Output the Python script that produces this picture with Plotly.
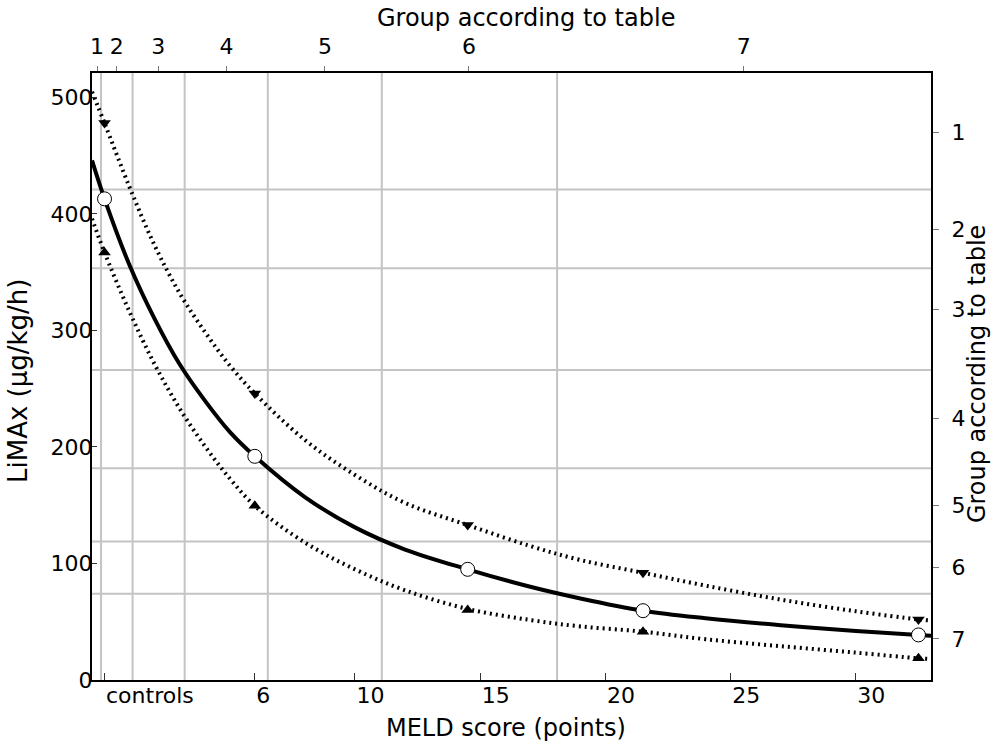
import plotly.graph_objects as go

# ---- data ----
meld_pts = [0.0, 6.0, 14.5, 21.5, 32.5]
limax_median = [413, 192, 95, 59.5, 38.7]
limax_upper = [478, 246, 133, 92, 52]
limax_lower = [367, 149.5, 60, 41.5, 18.6]

# samples
curve_x = [-0.5, 0, 1, 2, 3, 4, 5, 6, 8, 10, 12, 14.5, 17, 19, 21.5, 24, 27, 30, 32.5, 33]
curve_y = [446, 413, 356, 310, 271, 240, 213, 192, 157, 131, 112, 95, 80, 70, 59.5, 53, 47, 42, 38.7, 38]

upper_x = [-0.5, 0, 1, 2, 3, 4, 5, 6, 8, 10, 12, 14.5, 17, 19, 21.5, 24, 27, 30, 32.5, 33]
upper_y = [505, 478, 423, 373, 332, 299, 270, 246, 206, 176, 152, 133, 115, 103, 92, 81, 69, 59, 52, 51]

lower_x = [-0.5, 0, 1, 2, 3, 4, 5, 6, 8, 10, 12, 14.5, 17, 19, 21.5, 24, 27, 30, 32.5, 33]
lower_y = [396, 367, 316, 271, 233, 201, 173, 149.5, 118, 95, 77, 61, 51.5, 46, 41.5, 35, 29, 23.5, 18.6, 18]

# group boundaries (grid lines) and group tick positions
group_bounds_meld = [-0.14, 1.12, 3.2, 6.52, 11.07, 18.07]
group_bounds_limax = [421, 353.5, 266, 181.7, 118.9, 74]
group_mid_meld = [-0.3, 0.49, 2.15, 4.87, 8.8, 14.55, 25.52]
group_mid_limax = [470, 387, 318, 224.6, 150, 96.8, 35.2]
group_labels = ["1", "2", "3", "4", "5", "6", "7"]

meld_ticks = [0, 6, 10, 15, 20, 25, 30]
meld_ticktext = ["controls", "6", "10", "15", "20", "25", "30"]
limax_ticks = [0, 100, 200, 300, 400, 500]

x_title = "MELD score (points)"
y_title = "LiMAx (µg/kg/h)"
group_title = "Group according to table"

x_range = [-0.5, 33.0]
y_range = [0, 521]

FONT = "DejaVu Sans"
GRID = "#c4c4c4"
DOTS = "2px,4px"

fig = go.Figure()

fig.add_trace(go.Scatter(x=upper_x, y=upper_y, mode="lines",
                         line=dict(color="black", width=4, dash=DOTS, shape="spline"), hoverinfo="skip"))
fig.add_trace(go.Scatter(x=lower_x, y=lower_y, mode="lines",
                         line=dict(color="black", width=4, dash=DOTS, shape="spline"), hoverinfo="skip"))
fig.add_trace(go.Scatter(x=curve_x, y=curve_y, mode="lines",
                         line=dict(color="black", width=4, shape="spline"), hoverinfo="skip"))

fig.add_trace(go.Scatter(x=meld_pts, y=limax_upper, mode="markers",
                         marker=dict(symbol="triangle-down", size=11, color="black", line=dict(width=0))))
fig.add_trace(go.Scatter(x=meld_pts, y=limax_lower, mode="markers",
                         marker=dict(symbol="triangle-up", size=11, color="black", line=dict(width=0))))
fig.add_trace(go.Scatter(x=meld_pts, y=limax_median, mode="markers",
                         marker=dict(symbol="circle", size=14, color="white", line=dict(color="black", width=1))))

# empty traces so the top and right axes are drawn
fig.add_trace(go.Scatter(x=[None], y=[None], xaxis="x2", yaxis="y", hoverinfo="skip"))
fig.add_trace(go.Scatter(x=[None], y=[None], xaxis="x", yaxis="y2", hoverinfo="skip"))

for b in group_bounds_meld:
    fig.add_shape(type="line", xref="x", yref="paper", x0=b, x1=b, y0=0, y1=1,
                  line=dict(color=GRID, width=2), layer="below")
for b in group_bounds_limax:
    fig.add_shape(type="line", xref="paper", yref="y", x0=0, x1=1, y0=b, y1=b,
                  line=dict(color=GRID, width=2), layer="below")

# axis titles
fig.add_annotation(text=x_title, xref="paper", yref="paper", x=0.494, y=0,
                   xanchor="center", yanchor="middle", yshift=-48, showarrow=False,
                   font=dict(size=24))
fig.add_annotation(text=group_title, xref="paper", yref="paper", x=0.517, y=1,
                   xanchor="center", yanchor="middle", yshift=55, showarrow=False,
                   font=dict(size=24))
fig.add_annotation(text=y_title, xref="paper", yref="paper", x=0, y=0.4926,
                   xanchor="center", yanchor="middle", xshift=-74, textangle=-90,
                   showarrow=False, font=dict(size=26))
fig.add_annotation(text=group_title, xref="paper", yref="paper", x=1, y=0.504,
                   xanchor="center", yanchor="middle", xshift=46, textangle=-90,
                   showarrow=False, font=dict(size=24))

fig.update_layout(
    width=992, height=747,
    margin=dict(l=92, r=61, t=73, b=67),
    paper_bgcolor="white", plot_bgcolor="white",
    showlegend=False,
    font=dict(family=FONT, size=22, color="black"),
    xaxis=dict(
        range=x_range, tickvals=meld_ticks, ticktext=meld_ticktext,
        ticks="inside", ticklen=7, tickwidth=1, tickcolor="#333",
        ticklabelposition="outside right", ticklabelstandoff=-5,
        showgrid=False, zeroline=False, automargin=False,
        showline=True, linecolor="black", linewidth=2,
        tickfont=dict(size=22),
    ),
    yaxis=dict(
        range=y_range, tickvals=limax_ticks,
        ticks="inside", ticklen=5, tickwidth=1, tickcolor="#333",
        ticklabelstandoff=-7,
        showgrid=False, zeroline=False, automargin=False,
        showline=True, linecolor="black", linewidth=2,
        tickfont=dict(size=22),
    ),
    xaxis2=dict(
        overlaying="x", side="top", anchor="y", range=x_range,
        tickvals=group_mid_meld, ticktext=group_labels,
        ticks="outside", ticklen=5, tickwidth=1, tickcolor="#777",
        ticklabelstandoff=3,
        showgrid=False, zeroline=False, automargin=False,
        showline=True, linecolor="black", linewidth=2,
        tickfont=dict(size=22),
    ),
    yaxis2=dict(
        overlaying="y", side="right", anchor="x", range=y_range,
        tickvals=group_mid_limax, ticktext=group_labels,
        ticks="outside", ticklen=6, tickwidth=1, tickcolor="#777",
        ticklabelstandoff=8,
        showgrid=False, zeroline=False, automargin=False,
        showline=True, linecolor="black", linewidth=2,
        tickfont=dict(size=22),
    ),
)

fig.write_html("out.html", config={"displayModeBar": False},
               post_script="document.body.style.margin='0px';")
